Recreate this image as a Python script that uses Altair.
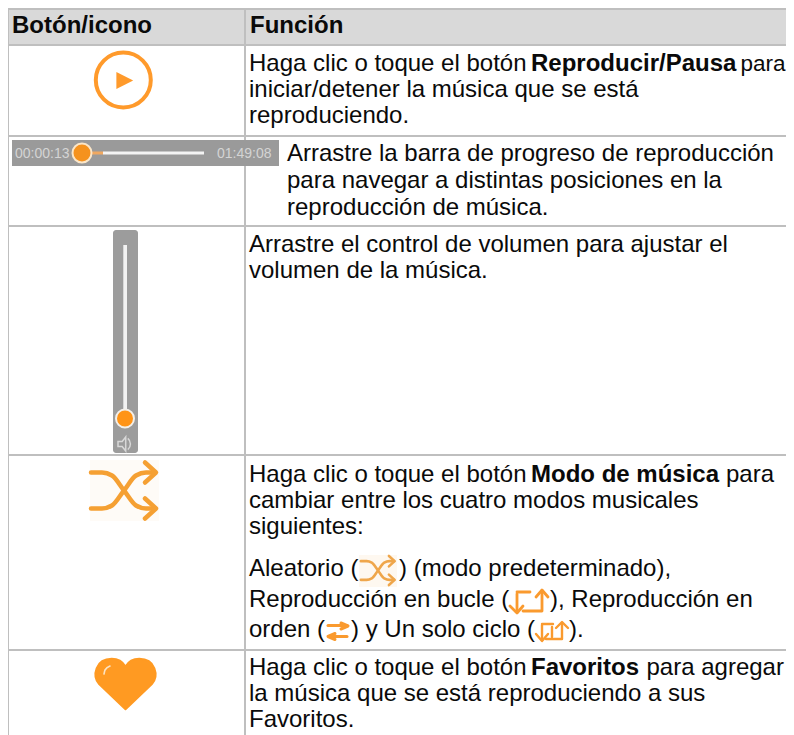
import altair as alt
import pandas as pd

ORANGE = "#FF9A2B"
FONT = "Liberation Sans"
SIZE = 24

# text runs: text, left, baseline, bold
body_text = [
    "Botón/icono", "Función",
    "Haga clic o toque el botón", "Reproducir/Pausa",
    "iniciar/detener la música que se está",
    "reproduciendo.",
    "Arrastre la barra de progreso de reproducción",
    "para navegar a distintas posiciones en la",
    "reproducción de música.",
    "Arrastre el control de volumen para ajustar el",
    "volumen de la música.",
    "Haga clic o toque el botón", "Modo de música", "para",
    "cambiar entre los cuatro modos musicales",
    "siguientes:",
    "Aleatorio (", ") (modo predeterminado),",
    "Reproducción en bucle (", "), Reproducción en",
    "orden (", ") y Un solo ciclo (", ").",
    "Haga clic o toque el botón", "Favoritos", "para agregar",
    "la música que se está reproduciendo a sus",
    "Favoritos.",
]
body_x = [12, 250, 249, 531, 249, 249, 287, 287, 287, 249, 249, 249, 531, 726,
          249, 249, 249, 399, 249, 550, 249, 351, 569, 249, 531, 646.5, 249, 249]
body_y = [33, 33, 71, 71, 97, 123, 161, 188, 215, 252, 278, 482, 482, 482, 508, 534,
          576, 576, 607, 607, 637, 637, 637, 675, 675, 675, 701, 727]
body_bold = [1, 1, 0, 1, 0, 0, 0, 0, 0, 0, 0, 0, 1, 0, 0, 0, 0, 0, 0, 0, 0, 0, 0, 0, 1, 0, 0, 0]

# table rules: x, x2, y, y2
rule_x = [8, 8, 8, 8, 8, 8, 8, 244]
rule_x2 = [786, 786, 786, 786, 786, 786, 9, 246]
rule_y = [8, 44, 135, 225, 454, 649, 8, 8]
rule_y2 = [10, 46, 137, 227, 456, 651, 735, 735]

X = alt.Scale(domain=[8, 786], range=[0, 778], nice=False, zero=False)
Y = alt.Scale(domain=[8, 735], range=[0, 727], nice=False, zero=False)
def xq(f): return alt.X(f, type="quantitative", scale=X, axis=None)
def yq(f): return alt.Y(f, type="quantitative", scale=Y, axis=None)

def boxes(xs, x2s, ys, y2s, color, **kw):
    df = pd.DataFrame({"x": xs, "x2": x2s, "y": ys, "y2": y2s})
    return alt.Chart(df).mark_rect(color=color, clip=True, **kw).encode(
        x=xq("x"), x2="x2", y=yq("y"), y2="y2")

def dots(xs, ys, r, fill, stroke=None, sw=0):
    df = pd.DataFrame({"x": xs, "y": ys})
    kw = dict(fill=fill, size=(2 * r) ** 2, shape="circle", opacity=1)
    if stroke:
        kw.update(stroke=stroke, strokeWidth=sw)
    else:
        kw.update(strokeWidth=0)
    return alt.Chart(df).mark_point(**kw).encode(x=xq("x"), y=yq("y"))

def lines(paths, color, width, interp="linear", cap="round"):
    rows = []
    for g, p in enumerate(paths):
        for i, (a, b) in enumerate(p):
            rows.append({"g": g, "i": i, "x": a, "y": b})
    return alt.Chart(pd.DataFrame(rows)).mark_line(
        color=color, strokeWidth=width, interpolate=interp, strokeCap=cap, strokeJoin="round"
    ).encode(x=xq("x"), y=yq("y"), detail="g:N", order="i:Q")

def label(text, x, y, size, color, weight="normal"):
    df = pd.DataFrame({"t": [text], "x": [x], "y": [y]})
    return alt.Chart(df).mark_text(align="left", baseline="alphabetic", font=FONT, fontSize=size,
                                   color=color, fontWeight=weight).encode(x=xq("x"), y=yq("y"), text="t:N")

def shuffle(cx, cy, s, w, color):
    t = lambda pts: [(cx + a * s, cy + b * s) for a, b in pts]
    curves = [t([(-33, -18), (-22, -18), (-12, -15), (0, 0), (12, 15), (22, 18), (31, 18)]),
              t([(-33, 18), (-22, 18), (-12, 15), (0, 0), (12, -15), (22, -18), (31, -18)])]
    heads = [t([(21, -28), (32, -18), (21, -8)]), t([(21, 8), (32, 18), (21, 28)])]
    return lines(curves, color, w, "monotone") + lines(heads, color, w)

HEART = ("M0,0.84 L-0.88,0.0 C-1.12,-0.28 -1,-0.84 -0.46,-0.84 C-0.24,-0.84 -0.08,-0.72 0,-0.58 "
         "C0.08,-0.72 0.24,-0.84 0.46,-0.84 C1,-0.84 1.12,-0.28 0.88,0.0 Z")

layers = []
# header + borders
layers.append(boxes([8], [786], [10], [44], "#D9D9D9"))
layers.append(boxes(rule_x, rule_x2, rule_y, rule_y2, "#BFBFBF"))

# play
layers.append(dots([123.3], [80], 27.5, "white", ORANGE, 4))
tri = pd.DataFrame({"x": [123], "y": [80.5]})
layers.append(alt.Chart(tri).mark_point(shape="M-0.39,-0.5 L0.6,0 L-0.39,0.5 Z", fill=ORANGE, strokeWidth=0,
                                        size=34**2, opacity=1).encode(x=xq("x"), y=yq("y")))

# progress
layers.append(boxes([12], [279], [140], [166], "#9A9A9A"))
layers.append(boxes([103], [204], [151.5], [154.5], "#F4F4F4"))
layers.append(boxes([92], [103], [151.5], [154.5], "#F0A860"))
layers.append(dots([82], [153], 9.5, "#F5921E", "#FBE6C8", 2))
layers.append(label("00:00:13", 15, 158, 14, "#D4D4D4"))
layers.append(label("01:49:08", 217, 158, 14, "#D4D4D4"))

# volume
layers.append(boxes([113], [138], [230], [453], "#9C9C9C", cornerRadius=3))
layers.append(boxes([123.3], [127], [245], [412], "#F2F2F2"))
layers.append(dots([125], [418.5], 9, "#FF9417", "#F4F0EA", 2))
layers.append(alt.Chart(pd.DataFrame({"x": [125], "y": [444]})).mark_point(
    shape="M-1,-0.35 L-0.4,-0.35 L0.1,-1 L0.1,1 L-0.4,0.35 L-1,0.35 Z M0.4,-0.8 C0.9,-0.4 0.9,0.4 0.4,0.8",
    stroke="#D8D8D8", strokeWidth=1.5, fillOpacity=0, size=14**2, opacity=1).encode(x=xq("x"), y=yq("y")))

# shuffle large
layers.append(boxes([90], [159], [460], [521], "#FEFBF7"))
layers.append(shuffle(124, 490.5, 1, 4.5, "#F5A033"))

# inline icons
ICON = "#FA9A2E"
layers.append(boxes([359], [397], [555], [587], "#FEF8F0"))
layers.append(shuffle(378, 570.5, 0.52, 2.6, "#EFA64B"))
layers.append(lines([[(517, 594), (517, 612)],
                     [(510, 606), (517, 613), (523, 606)],
                     [(517, 592), (530, 592)],
                     [(523, 611), (542, 611), (542, 591)],
                     [(536, 597), (542, 590), (548, 597)]], ICON, 2.8))
layers.append(lines([[(328, 625.5), (347, 625.5)], [(341, 623), (348, 626), (341, 629)],
                     [(329, 636.5), (347, 636.5)], [(335, 633.5), (328, 636.5), (335, 639.5)]], ICON, 3))
layers.append(lines([[(542, 625), (542, 640)], [(536, 634), (542, 641), (548, 634)],
                     [(542, 624), (553, 624)], [(546, 639), (562, 639), (562, 623)],
                     [(556, 628), (562, 622), (568, 628)], [(552, 627), (552, 637)]], ICON, 2.4))

# heart
layers.append(alt.Chart(pd.DataFrame({"x": [125.5], "y": [684]})).mark_point(
    shape=HEART, fill="#FF9A22", stroke="#FF9A22", strokeWidth=2, strokeJoin="round",
    size=60**2, opacity=1).encode(x=xq("x"), y=yq("y")))
layers.append(lines([[(104, 674), (105, 670), (110, 666)]], "#FBE3C4", 1.6, "monotone"))

# text
df = pd.DataFrame({"t": body_text, "x": body_x, "y": body_y, "b": body_bold})
for flag, weight in [(0, "normal"), (1, "bold")]:
    layers.append(alt.Chart(df[df.b == flag]).mark_text(
        align="left", baseline="alphabetic", font=FONT, fontSize=SIZE, color="#0A0A0A", fontWeight=weight
    ).encode(x=xq("x"), y=yq("y"), text="t:N"))
layers.append(label("para", 740.5, 71, 22.5, "#0A0A0A"))

chart = alt.layer(*layers).properties(
    width=778, height=727, padding=0, autosize=alt.AutoSizeParams(type="none")
).configure_view(stroke=None).configure(background="white")
chart.save("out.html", embed_options={"renderer": "svg", "actions": False})
